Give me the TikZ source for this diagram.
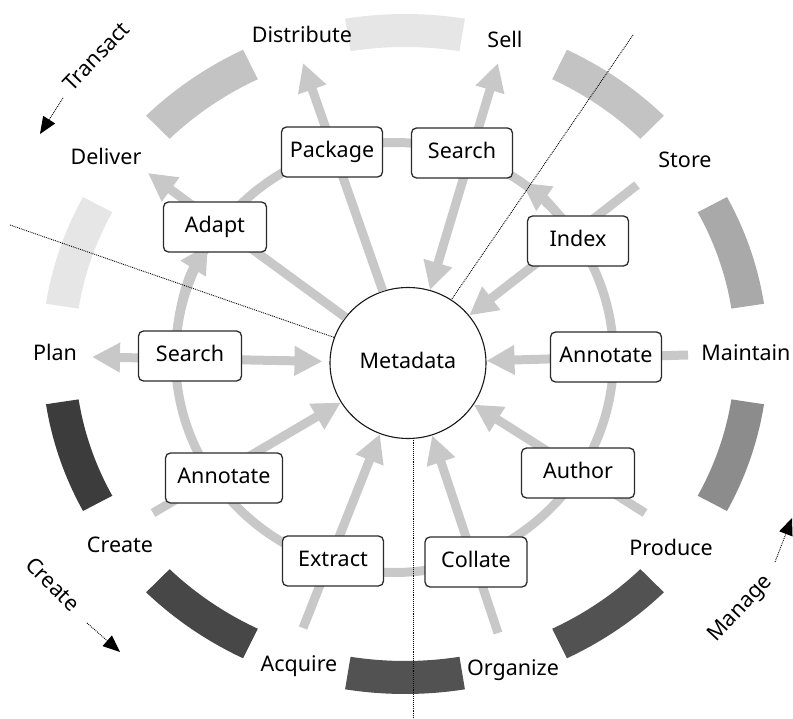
\documentclass[tikz,border=0pt]{standalone}
\usepackage{fontspec}
\setmainfont{Noto Sans}
\usetikzlibrary{arrows.meta,shapes.geometric}
\definecolor{segA}{HTML}{E6E6E6}
\definecolor{segB}{HTML}{C3C3C3}
\definecolor{segC}{HTML}{3C3C3C}
\definecolor{segD}{HTML}{474747}
\definecolor{segE}{HTML}{525252}
\definecolor{segF}{HTML}{8C8C8C}
\definecolor{segG}{HTML}{A9A9A9}
\definecolor{arrc}{HTML}{C8C8C8}
\definecolor{boxc}{HTML}{2B2B2B}
\begin{document}
\begin{tikzpicture}[x=1pt,y=1pt,
  font=\fontsize{21.5}{25}\selectfont,
  lab/.style={inner sep=0pt, text height=1.09em, text depth=0pt},
  rlab/.style={inner sep=0pt, text height=0.714em, text depth=0pt},
  box/.style={draw=boxc, line width=1.3pt, fill=white, rounded corners=5pt,
    minimum width=101pt, minimum height=50pt, inner sep=0pt,
    text height=1.09em, text depth=0pt},
  arr/.style={draw=arrc, line width=9pt, -{Triangle[length=28pt,width=28pt]}},
  arrboth/.style={draw=arrc, line width=9pt, {Triangle[length=28pt,width=28pt]}-{Triangle[length=28pt,width=28pt]}},
  plainline/.style={draw=arrc, line width=9pt},
  radial/.style={draw=black, line width=0.9pt, densely dotted},
  cyc/.style={draw=black, line width=0.9pt, densely dotted, -{Triangle[length=17pt,width=14pt]}}
]
\useasboundingbox (0,0) rectangle (793,718);

% outer segments
\foreach \c/\col in {90/segA,126/segB,162/segA,198/segC,234/segD,270/segE,306/segE,342/segF,18/segG,54/segB}{
  \fill[\col] ({405+330*cos(\c-9.5)},{364+307*sin(\c-9.5)})
    arc[start angle=\c-9.5, end angle=\c+9.5, x radius=330, y radius=307]
    -- ({405+363*cos(\c+9.5)},{364+340*sin(\c+9.5)})
    arc[start angle=\c+9.5, end angle=\c-9.5, x radius=363, y radius=340] -- cycle;
}

% inner ring
\draw[plainline] (394.5,360.5) ellipse[x radius=219, y radius=215];
\draw[arr] ({394.5+219*cos(180)},{360.5+215*sin(180)})
  arc[start angle=180, end angle=148.4, x radius=219, y radius=215];
\draw[arr] ({394.5+219*cos(33)},{360.5+215*sin(33)})
  arc[start angle=33, end angle=54.4, x radius=219, y radius=215];

% metadata
\node[ellipse, draw=black!90, line width=1.1pt, fill=white, minimum width=156pt,
  minimum height=151pt, inner sep=0pt, text height=1.09em, text depth=0pt] (md) at (408,355) {Metadata};

% free ends of radial connectors
\coordinate (tDist) at (303,655);
\coordinate (tSell) at (498,655);
\coordinate (pStore) at (637,533);
\coordinate (pMaint) at (688,363);
\coordinate (pProd) at (645,205);
\coordinate (pOrg) at (498,85);
\coordinate (pAcq) at (303,90);
\coordinate (pCreate) at (153,205);
\coordinate (tPlan) at (92,361);
\coordinate (tDeliv) at (148,545);

% radial connectors (boxes drawn on top)
\draw[arr] (md) -- (tDist);
\draw[arrboth] (tSell) -- (md);
\draw[arr] (pStore) -- (md);
\draw[arr] (pMaint) -- (md);
\draw[arr] (pProd) -- (md);
\draw[arr] (pOrg) -- (md);
\draw[arr] (pAcq) -- (md);
\draw[arr] (pCreate) -- (md);
\draw[arrboth, shorten >=7pt] (tPlan) -- (md);
\draw[arr] (md) -- (tDeliv);

% dotted radial dividers
\coordinate (d1) at (10,493);
\coordinate (d2) at (633,683);
\coordinate (d3) at (413,0);
\draw[radial] (d1) -- (md);
\draw[radial] (d2) -- (md);
\draw[radial] (d3) -- (d3 |- md.south);

% boxes
\node[box] (pkg) at (332,566) {Package};
\node[box] (srT) at (462,565) {Search};
\node[box] (idx) at (578,477) {Index};
\node[box, minimum width=111pt] (anR) at (606,361) {Annotate};
\node[box, minimum width=113pt] (aut) at (578,245) {Author};
\node[box, minimum width=102pt] (col) at (476,156) {Collate};
\node[box] (ext) at (333,157) {Extract};
\node[box, minimum width=117pt] (anL) at (224,240) {Annotate};
\node[box, minimum width=103pt] (srL) at (190,362) {Search};
\node[box, minimum width=103pt] (adp) at (215,491) {Adapt};

% outer labels
\node[lab] (lDist) at (302,681) {Distribute};
\node[lab] (lSell) at (505,676) {Sell};
\node[lab] (lStore) at (685,556) {Store};
\node[lab] (lMaint) at (746,363) {Maintain};
\node[lab] (lProd) at (671,168) {Produce};
\node[lab] (lOrg) at (513,48) {Organize};
\node[lab] (lAcq) at (299,52) {Acquire};
\node[lab] (lCreate) at (120,171) {Create};
\node[lab] (lPlan) at (55,363) {Plan};
\node[lab] (lDeliv) at (106,559) {Deliver};

% cycle labels and arrows
\node[rlab, rotate=46] (cTrans) at (99,659) {Transact};
\node[rlab, rotate=-45] (cCreate) at (50,131) {Create};
\node[rlab, rotate=47] (cManage) at (742,108) {Manage};
\coordinate (tr1) at (63,620); \coordinate (tr2) at (40,584);
\coordinate (cr1) at (87,95);  \coordinate (cr2) at (120,66);
\coordinate (mg1) at (775,156); \coordinate (mg2) at (792,200);
\draw[cyc] (tr1) -- (tr2);
\draw[cyc] (cr1) -- (cr2);
\draw[cyc] (mg1) -- (mg2);
\end{tikzpicture}
\end{document}
